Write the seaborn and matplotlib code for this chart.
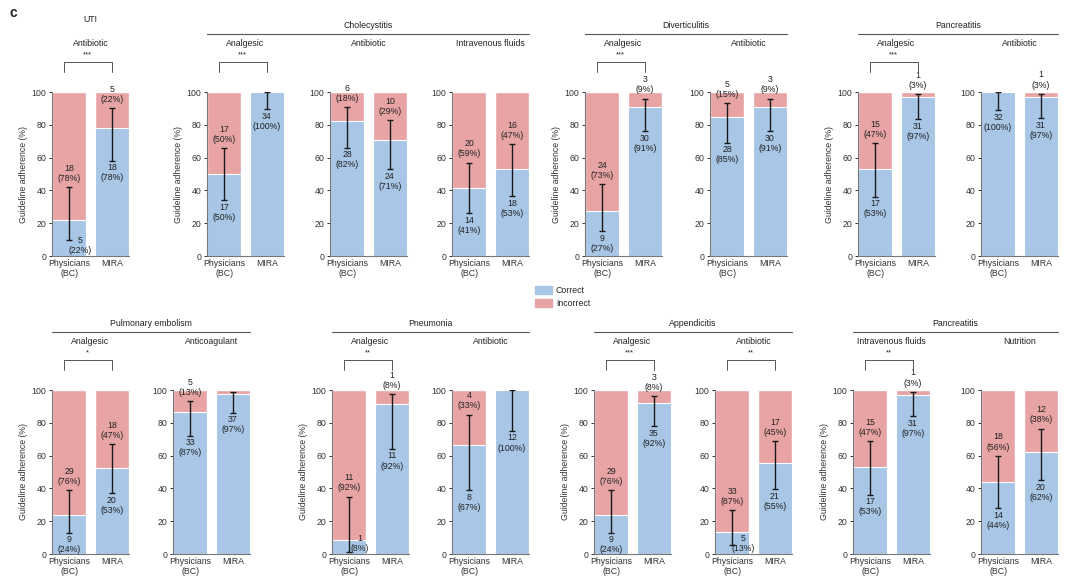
"""Guideline adherence, physicians (BC) vs MIRA, panel c."""
import matplotlib
matplotlib.use("Agg")
import matplotlib.pyplot as plt
import numpy as np
import pandas as pd
import seaborn as sns

# ---- data (top row 8 panels, then bottom row 8 panels) ----
conditions = ["UTI", "Cholecystitis", "Cholecystitis", "Cholecystitis",
              "Diverticulitis", "Diverticulitis", "Pancreatitis", "Pancreatitis",
              "Pulmonary embolism", "Pulmonary embolism", "Pneumonia", "Pneumonia",
              "Appendicitis", "Appendicitis", "Pancreatitis", "Pancreatitis"]
treatments = ["Antibiotic", "Analgesic", "Antibiotic", "Intravenous fluids",
              "Analgesic", "Antibiotic", "Analgesic", "Antibiotic",
              "Analgesic", "Anticoagulant", "Analgesic", "Antibiotic",
              "Analgesic", "Antibiotic", "Intravenous fluids", "Nutrition"]
phys_correct = [5, 17, 28, 14, 9, 28, 17, 32, 9, 33, 1, 8, 9, 5, 17, 14]
phys_incorrect = [18, 17, 6, 20, 24, 5, 15, 0, 29, 5, 11, 4, 29, 33, 15, 18]
mira_correct = [18, 34, 24, 18, 30, 30, 31, 31, 20, 37, 11, 12, 35, 21, 31, 20]
mira_incorrect = [5, 0, 10, 16, 3, 3, 1, 1, 18, 1, 1, 0, 3, 17, 1, 12]
phys_ci_lo = [10, 34, 66, 26, 15, 69, 36, 89, 13, 72, 1.5, 39, 13, 5.5, 36, 28]
phys_ci_hi = [42, 66, 91, 57, 44, 93, 69, 100, 39, 93.5, 35, 85, 39, 27, 69, 60]
mira_ci_lo = [58, 89.5, 53, 36.5, 76, 76, 83.5, 84, 37, 86, 64, 75, 78, 39.5, 84, 45]
mira_ci_hi = [90, 100, 83, 68, 96, 96, 98.5, 99, 67, 98.5, 97.5, 100, 96.5, 69, 99, 76.5]
stars = ["***", "***", "", "", "***", "", "***", "",
         "*", "", "**", "", "***", "**", "**", ""]
hidden_incorrect_labels = [(9, 1)]   # (panel, bar) whose incorrect label is not printed

sources = ["Physicians\n(BC)", "MIRA"]
ylabel_panels = [0, 1, 4, 6, 8, 10, 12, 14]
groups = [("UTI", [0]), ("Cholecystitis", [1, 2, 3]), ("Diverticulitis", [4, 5]),
          ("Pancreatitis", [6, 7]), ("Pulmonary embolism", [8, 9]),
          ("Pneumonia", [10, 11]), ("Appendicitis", [12, 13]), ("Pancreatitis", [14, 15])]

BLUE = "#a8c6e6"
RED = "#e8a4a4"
W, H = 1080, 586
top_lefts = [52, 207, 330, 452, 585, 710, 858, 981]
bot_lefts = [52, 173, 332, 452, 594, 715, 853, 981]
PANEL_W, PANEL_H = 77, 164
ROW_TOP = [92, 390]

sns.set_theme(style="ticks")
plt.rcParams["font.family"] = ["Liberation Sans", "DejaVu Sans"]
FS = 6.3


def fx(px):
    return px / W


def fy(py):
    return 1 - py / H


fig = plt.figure(figsize=(W / 100, H / 100), dpi=100)
fig.text(fx(10), fy(13), "c", fontsize=10, fontweight="bold", va="center")

axes_px = []
for k in range(16):
    row = k // 8
    left = (top_lefts if row == 0 else bot_lefts)[k % 8]
    top = ROW_TOP[row]
    axes_px.append((left, top))
    ax = fig.add_axes([fx(left), fy(top + PANEL_H), fx(PANEL_W), PANEL_H / H])

    ncor = np.array([phys_correct[k], mira_correct[k]])
    ninc = np.array([phys_incorrect[k], mira_incorrect[k]])
    tot = ncor + ninc
    df = pd.DataFrame({"source": sources,
                       "total": tot / tot * 100,
                       "correct": ncor / tot * 100})
    sns.barplot(data=df, x="source", y="total", color=RED, saturation=1,
                width=0.8, errorbar=None, ax=ax)
    sns.barplot(data=df, x="source", y="correct", color=BLUE, saturation=1,
                width=0.8, errorbar=None, edgecolor="white", linewidth=0.8, ax=ax)

    lo = np.array([phys_ci_lo[k], mira_ci_lo[k]])
    hi = np.array([phys_ci_hi[k], mira_ci_hi[k]])
    pct = df["correct"].to_numpy()
    ax.errorbar([0, 1], pct, yerr=[pct - lo, hi - pct], fmt="none",
                ecolor="#1a1a1a", elinewidth=1, capsize=2.5, capthick=1, zorder=4)

    for i in range(2):
        if ncor[i] > 0:
            txt = f"{ncor[i]}\n({ncor[i] / tot[i] * 100:.0f}%)"
            if lo[i] < 12:
                ax.text(i + 0.25, 6.5, txt, ha="center", va="center",
                        fontsize=FS, color="#222", linespacing=1.15, zorder=5)
            else:
                ax.text(i, lo[i] - 1.5, txt, ha="center", va="top",
                        fontsize=FS, color="#222", linespacing=1.15, zorder=5)
        if ninc[i] > 0 and (k, i) not in hidden_incorrect_labels:
            txt = f"{ninc[i]}\n({ninc[i] / tot[i] * 100:.0f}%)"
            ax.text(i, hi[i] + 2.5, txt, ha="center", va="bottom", fontsize=FS,
                    color="#222", linespacing=1.15, zorder=5, clip_on=False)

    ax.set_xlim(-0.4, 1.4)
    ax.set_ylim(0, 100)
    ax.set_yticks([0, 20, 40, 60, 80, 100])
    ax.set_xlabel("")
    if k in ylabel_panels:
        ax.set_ylabel("Guideline adherence (%)", fontsize=FS, color="#333", labelpad=3)
    else:
        ax.set_ylabel("")
    ax.tick_params(axis="y", labelsize=FS, length=2.5, width=0.7, pad=1.5,
                   colors="#333")
    ax.tick_params(axis="x", labelsize=FS, length=0, pad=2, colors="#333")
    for sp in ["top", "right"]:
        ax.spines[sp].set_visible(False)
    for sp in ["left", "bottom"]:
        ax.spines[sp].set_color("#777")
        ax.spines[sp].set_linewidth(0.8)

    # treatment subtitle and significance bracket
    cx = left + PANEL_W / 2
    fig.text(fx(cx), fy(top - 48), treatments[k], ha="center", va="center",
             fontsize=FS, color="#222")
    if stars[k]:
        unit = PANEL_W / 1.8
        x0 = left + (-0.13 + 0.4) * unit
        x1 = left + (1.0 + 0.4) * unit
        yb, yt = top - 20, top - 30
        fig.add_artist(plt.Line2D([fx(x0), fx(x0), fx(x1), fx(x1)],
                                  [fy(yb), fy(yt), fy(yt), fy(yb)],
                                  color="#555", linewidth=0.7))
        fig.text(fx((x0 + x1) / 2), fy(top - 34), stars[k], ha="center",
                 va="bottom", fontsize=5.5, color="#222")

# condition headers
for name, idx in groups:
    lefts = [axes_px[j][0] for j in idx]
    top = axes_px[idx[0]][1]
    x0, x1 = min(lefts), max(lefts) + PANEL_W
    if len(idx) == 1:
        fig.text(fx((x0 + x1) / 2), fy(top - 72), name, ha="center", va="center",
                 fontsize=FS, color="#222")
        continue
    fig.text(fx((x0 + x1) / 2), fy(top - 67), name, ha="center", va="center",
             fontsize=FS, color="#222")
    fig.add_artist(plt.Line2D([fx(x0), fx(x1)], [fy(top - 58), fy(top - 58)],
                              color="#555", linewidth=0.8))

handles = [plt.Rectangle((0, 0), 1, 1, color=BLUE), plt.Rectangle((0, 0), 1, 1, color=RED)]
fig.legend(handles, ["Correct", "Incorrect"], loc="center left",
           bbox_to_anchor=(fx(527), fy(297)), frameon=False, fontsize=FS,
           handlelength=1.9, handleheight=0.9, handletextpad=0.5, labelspacing=0.45)

fig.savefig("out.png", dpi=100)
print("saved out.png")
